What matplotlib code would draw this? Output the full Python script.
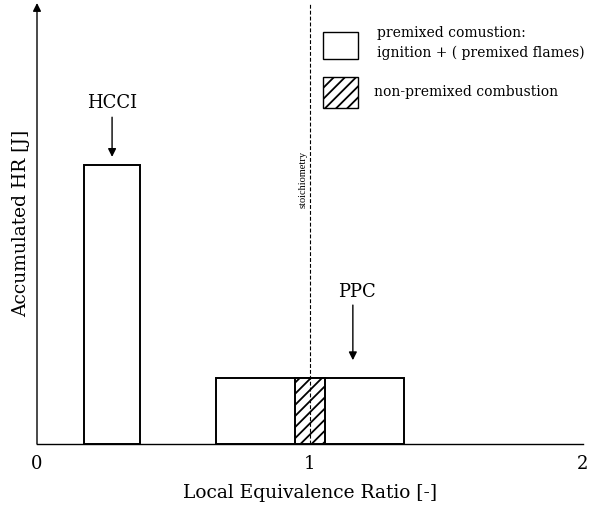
import matplotlib
matplotlib.use("Agg")
import matplotlib.pyplot as plt
from matplotlib.patches import Rectangle

# data
bar_labels = ["HCCI", "PPC"]
bar_left = [0.172, 0.656]
bar_right = [0.377, 1.344]
bar_height = [0.633, 0.150]
hatch_left = 0.945
hatch_right = 1.055
stoich_x = 1.0
xticks = [0, 1, 2]

plt.rcParams['font.family'] = ['DejaVu Serif']
plt.rcParams['hatch.linewidth'] = 1.3

fig = plt.figure(figsize=(5.91, 5.05), dpi=100)
ax = fig.add_axes([37/591, (505-444)/505, (583-37)/591, (444-3)/505])
ax.set_xlim(0, 2)
ax.set_ylim(0, 1)

for l, r, h in zip(bar_left, bar_right, bar_height):
    ax.bar(l, h, width=r-l, align='edge', facecolor='white', edgecolor='black', linewidth=1.4, zorder=2)
ax.bar(hatch_left, bar_height[1], width=hatch_right-hatch_left, align='edge',
       facecolor='white', edgecolor='black', hatch='///', linewidth=1.4, zorder=3)

ax.axvline(stoich_x, color='black', linestyle=(0, (3.5, 1.8)), linewidth=0.8, zorder=4)
ax.text(0.973, 0.599, "stoichiometry", rotation=90, fontsize=7.5, ha='center', va='center',
        family='Liberation Serif')

# annotations
ax.text(0.275, 0.773, bar_labels[0], fontsize=13, ha='center', va='center')
ax.annotate('', xy=(0.275, 0.651), xytext=(0.275, 0.741),
            arrowprops=dict(arrowstyle='-|>', color='black', lw=1, mutation_scale=12,
                            shrinkA=0, shrinkB=0))
ax.text(1.172, 0.345, bar_labels[1], fontsize=13, ha='center', va='center')
ax.annotate('', xy=(1.157, 0.190), xytext=(1.157, 0.315),
            arrowprops=dict(arrowstyle='-|>', color='black', lw=1, mutation_scale=12,
                            shrinkA=0, shrinkB=0))

# legend
ax.add_patch(Rectangle((1.048, 0.873), 0.128, 0.061, facecolor='white', edgecolor='black', lw=1))
ax.add_patch(Rectangle((1.048, 0.762), 0.128, 0.070, facecolor='white', edgecolor='black',
                       hatch='///', lw=1))
ax.text(1.245, 0.932, "premixed comustion:", fontsize=10, va='center', ha='left')
ax.text(1.245, 0.886, "ignition + ( premixed flames)", fontsize=10, va='center', ha='left')
ax.text(1.234, 0.798, "non-premixed combustion", fontsize=10, va='center', ha='left')

# axes styling
for s in ['top', 'right', 'left']:
    ax.spines[s].set_visible(False)
ax.spines['bottom'].set_linewidth(1)
ax.annotate('', xy=(0, 1.0), xytext=(0, 0), annotation_clip=False,
            arrowprops=dict(arrowstyle='-|>', color='black', lw=1, mutation_scale=12,
                            shrinkA=0, shrinkB=0))
ax.set_xticks(xticks)
ax.set_xticklabels([str(t) for t in xticks], fontsize=13)
ax.tick_params(axis='x', length=0, pad=8)
ax.set_yticks([])
ax.set_xlabel("Local Equivalence Ratio [-]", fontsize=13.4, labelpad=8)
ax.set_ylabel("Accumulated HR [J]", fontsize=13.4, labelpad=5)

fig.savefig("out.png", dpi=100)
